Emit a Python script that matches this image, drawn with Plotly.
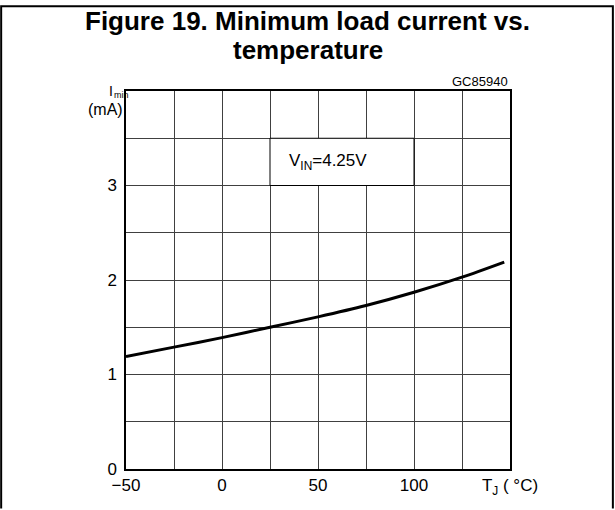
import plotly.graph_objects as go

# Data
temp_c = [-50, -25, 0, 25, 50, 75, 100, 125, 147]
i_min_ma = [1.19, 1.29, 1.39, 1.50, 1.61, 1.73, 1.87, 2.03, 2.19]

x_grid = [-50, -25, 0, 25, 50, 75, 100, 125, 150]
x_labels = ["\u221250", "", "0", "", "50", "", "100", "", "T<sub>J</sub> ( \u00b0C)"]
y_grid = [0, 0.5, 1, 1.5, 2, 2.5, 3, 3.5, 4]
y_labels = ["0", "", "1", "", "2", "", "3", "", ""]
title_lines = ["Figure 19. Minimum load current vs.", "temperature"]

W, H = 615, 510
L, R, T, B = 126, 104.5, 91, 35
pw, ph = W - L - R, H - T - B

def px(xp):
    return (xp - L) / pw

def py(yp):
    return (H - B - yp) / ph

font = "Liberation Sans, Arial, sans-serif"

fig = go.Figure()
fig.add_trace(go.Scatter(
    x=temp_c, y=i_min_ma, mode="lines",
    line=dict(color="black", width=3, shape="spline", smoothing=0.8),
    hoverinfo="skip", showlegend=False,
))

fig.update_layout(
    width=W, height=H,
    margin=dict(l=L, r=R, t=T, b=B, pad=0),
    paper_bgcolor="white", plot_bgcolor="white",
    font=dict(family=font, color="black", size=17),
    showlegend=False,
    xaxis=dict(range=[-50, 150], tickvals=x_grid, ticktext=x_labels,
               showgrid=True, gridcolor="#404040", gridwidth=1,
               zeroline=False, showline=True, linecolor="black", linewidth=1.5,
               mirror=True, ticks="", tickfont=dict(size=17), fixedrange=True),
    yaxis=dict(range=[0, 4], tickvals=y_grid, ticktext=y_labels,
               showgrid=True, gridcolor="#404040", gridwidth=1,
               zeroline=False, showline=True, linecolor="black", linewidth=1.5,
               mirror=True, ticks="", tickfont=dict(size=17), ticklabelstandoff=4,
               fixedrange=True),
)

# Title (two lines, placed separately for tight line spacing)
for txt, yc in zip(title_lines, [20, 49]):
    fig.add_annotation(x=px(308), xref="paper", y=py(yc), yref="paper", showarrow=False,
                       xanchor="center", yanchor="middle", text=f"<b>{txt}</b>",
                       font=dict(family=font, size=26, color="black"))

# V_IN box (white fill hides the grid)
fig.add_shape(type="rect", xref="x", yref="y", x0=25, x1=100, y0=3, y1=3.5,
              fillcolor="white", line=dict(color="black", width=1), layer="above")
fig.add_annotation(x=55, y=3.25, xref="x", yref="y", showarrow=False,
                   text="V<sub>IN</sub>=4.25V", font=dict(size=17))

# Axis title: I (main) + "min" subscript + (mA)
fig.add_annotation(x=px(114), y=py(91), xref="paper", yref="paper", showarrow=False,
                   xanchor="right", yanchor="middle", text="I", font=dict(size=14),
                   borderpad=0)
fig.add_annotation(x=px(113), y=py(95), xref="paper", yref="paper", showarrow=False,
                   xanchor="left", yanchor="middle", text="min", font=dict(size=9),
                   borderpad=0)
fig.add_annotation(x=px(125), y=py(110), xref="paper", yref="paper", showarrow=False,
                   xanchor="right", yanchor="middle", text="(mA)", font=dict(size=16))

# Figure code
fig.add_annotation(x=1, y=py(81), xref="paper", yref="paper", showarrow=False,
                   xanchor="right", yanchor="middle", text="GC85940",
                   font=dict(size=13))

# Outer frame (top, left, right)
fig.add_shape(type="path", xref="paper", yref="paper",
              path=f"M {px(1)} {py(515)} L {px(1)} {py(5)} L {px(613.5)} {py(5)} L {px(613.5)} {py(515)}",
              line=dict(color="black", width=2))

fig.write_html("out.html", config={"displayModeBar": False},
               post_script="document.body.style.margin='0';document.body.style.overflow='hidden';")
